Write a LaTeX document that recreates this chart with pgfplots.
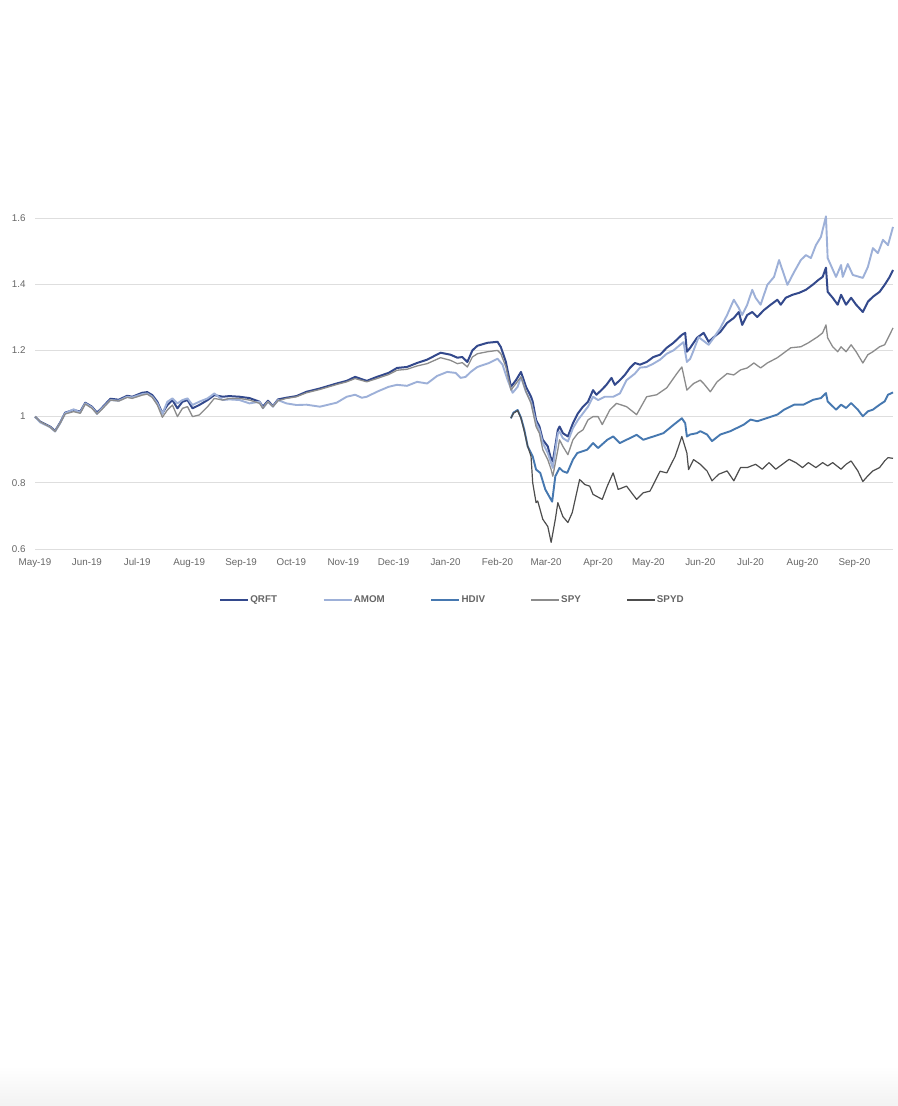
\documentclass[border=0pt]{standalone}
\usepackage{fontspec}
\setmainfont{Liberation Sans}
\usepackage{pgfplots}
\usepackage{pgfplotstable}
\pgfplotsset{compat=1.18}

\definecolor{qrft}{HTML}{33498C}
\definecolor{amom}{HTML}{9DB0D8}
\definecolor{hdiv}{HTML}{4678B0}
\definecolor{spy}{HTML}{8C8C8C}
\definecolor{spyd}{HTML}{4D4D4D}
\definecolor{tickc}{HTML}{666666}
\definecolor{gridc}{HTML}{DEDEDE}

% x = days since 1 May 2019, y = growth of 1
\pgfplotstableread{
d v
0 1.00
3 0.985
9 0.97
12 0.957
15 0.982
18 1.012
23 1.02
27 1.015
30 1.042
34 1.03
37 1.012
40 1.027
45 1.054
50 1.051
55 1.063
58 1.06
64 1.072
67 1.074
70 1.065
73 1.045
76 1.01
79 1.035
82 1.05
85 1.025
88 1.045
91 1.05
94 1.025
98 1.035
103 1.05
107 1.065
112 1.06
116 1.062
122 1.06
128 1.056
134 1.045
136 1.03
139 1.048
142 1.032
145 1.052
150 1.057
156 1.062
162 1.075
170 1.085
180 1.1
186 1.108
191 1.12
198 1.108
204 1.12
211 1.132
216 1.147
222 1.15
228 1.162
234 1.172
242 1.193
248 1.187
252 1.178
255 1.18
258 1.165
261 1.2
264 1.214
270 1.223
276 1.226
278 1.21
281 1.165
284 1.09
287 1.11
290 1.135
293 1.09
296 1.06
297 1.045
299 0.99
301 0.97
303 0.93
306 0.91
307.5 0.88
309 0.864
312 0.96
313 0.97
315 0.95
318 0.94
321 0.98
324 1.01
327 1.03
330 1.045
333 1.08
335 1.066
338 1.08
341 1.096
344 1.117
346 1.096
349 1.11
352 1.126
355 1.147
358 1.162
361 1.157
365 1.165
369 1.18
373 1.187
377 1.208
381 1.223
386 1.247
388 1.253
389 1.196
391 1.208
395 1.238
399 1.253
402 1.226
405 1.24
409 1.256
413 1.283
417 1.298
420 1.316
422 1.277
425 1.307
428 1.316
431 1.301
435 1.322
439 1.338
443 1.353
445 1.338
448 1.359
452 1.368
456 1.374
460 1.383
464 1.398
467.5 1.413
470 1.422
472 1.45
473 1.377
476 1.359
479 1.338
481 1.368
484 1.338
487 1.359
490 1.338
494 1.316
497 1.347
500 1.362
504 1.377
507 1.398
510 1.422
512 1.443
}\qrft

\pgfplotstableread{
d v
0 1.00
3 0.983
9 0.968
12 0.955
15 0.98
18 1.01
23 1.022
27 1.012
30 1.04
34 1.028
37 1.008
40 1.025
45 1.05
50 1.048
55 1.06
58 1.058
64 1.068
67 1.07
70 1.06
73 1.04
76 1.008
79 1.045
82 1.055
85 1.04
88 1.05
91 1.055
94 1.035
98 1.045
103 1.055
107 1.07
112 1.05
116 1.052
122 1.05
128 1.04
134 1.045
136 1.025
139 1.045
142 1.03
145 1.05
150 1.04
156 1.035
162 1.036
170 1.03
180 1.042
186 1.06
191 1.066
195 1.057
198 1.06
204 1.075
211 1.09
216 1.096
222 1.093
228 1.105
234 1.1
240 1.123
246 1.135
251 1.132
254 1.117
257 1.12
260 1.135
264 1.15
271 1.162
276 1.175
279 1.157
282 1.111
285 1.072
288 1.09
290 1.12
293 1.075
296 1.045
299 0.98
301 0.96
303 0.92
306 0.89
308 0.86
309 0.845
312 0.95
313 0.955
315 0.935
318 0.925
321 0.965
324 0.99
327 1.01
330 1.03
333 1.06
336 1.05
340 1.06
345 1.06
349 1.07
353 1.11
358 1.13
361 1.148
365 1.15
369 1.16
373 1.172
377 1.19
381 1.2
385 1.217
387 1.225
389 1.165
391 1.175
393 1.2
396 1.24
402 1.217
405 1.238
409 1.268
413 1.307
417 1.353
420 1.328
422 1.307
425 1.338
428 1.383
430 1.359
433 1.338
437 1.398
441 1.422
444 1.473
446 1.443
449 1.398
453 1.437
457 1.473
460 1.488
463 1.479
466 1.518
469 1.543
472 1.605
473 1.479
478 1.422
481 1.458
482 1.422
485 1.461
488 1.428
494 1.419
497 1.452
500 1.509
503 1.494
506 1.534
509 1.518
512 1.573
}\amom

\pgfplotstableread{
d v
284 0.995
285.5 1.012
288 1.02
290 0.997
292 0.96
294 0.91
297 0.88
299 0.84
301.5 0.83
304.5 0.78
308.6 0.743
310.5 0.82
313 0.845
315 0.835
317.6 0.83
321 0.87
323.6 0.89
329.5 0.9
333 0.92
336 0.905
341.5 0.93
345 0.94
349 0.92
353 0.93
359 0.945
363 0.93
369 0.94
375 0.95
381 0.975
386 0.995
388 0.98
389 0.94
391 0.946
395 0.95
397 0.956
401 0.946
404 0.926
409 0.946
415 0.956
419 0.966
423 0.976
427 0.991
431 0.986
437 0.996
443 1.006
447 1.021
453 1.036
458.5 1.036
464.5 1.051
469 1.056
472 1.071
473 1.046
478 1.021
481 1.036
484 1.026
487 1.041
491 1.021
494 1.001
497 1.016
500 1.021
504 1.036
507 1.046
509 1.066
512 1.073
}\hdiv

\pgfplotstableread{
d v
0 1.00
3 0.985
9 0.968
12 0.955
15 0.98
18 1.008
23 1.015
27 1.01
30 1.038
34 1.025
37 1.008
40 1.022
45 1.05
50 1.047
55 1.058
58 1.055
64 1.065
67 1.068
70 1.058
73 1.035
76 0.998
79 1.02
82 1.035
85 1.0
88 1.025
91 1.03
94 1.0
98 1.005
103 1.03
107 1.055
112 1.05
116 1.055
122 1.055
128 1.05
134 1.04
136 1.025
139 1.045
142 1.03
145 1.048
150 1.055
156 1.06
162 1.072
170 1.082
180 1.097
186 1.105
191 1.115
198 1.105
204 1.115
211 1.127
216 1.14
222 1.143
228 1.153
234 1.16
242 1.178
248 1.17
252 1.16
255 1.163
258 1.15
261 1.18
264 1.19
270 1.196
276 1.2
278 1.19
281 1.15
284 1.08
287 1.1
290 1.12
293 1.075
296 1.04
299 0.97
301 0.95
303 0.9
306 0.87
308 0.84
309 0.82
312 0.9
313 0.93
315 0.91
318 0.885
321 0.93
324 0.95
327 0.96
330 0.99
333 1.0
336 1.0
338.5 0.976
343 1.02
347 1.04
353 1.03
359 1.006
365 1.06
371 1.066
377 1.087
383 1.13
386 1.15
389 1.08
393 1.1
397 1.11
399 1.1
403 1.075
407 1.105
413 1.13
417 1.126
421 1.141
425 1.147
429 1.162
433 1.147
437 1.162
443 1.178
447 1.193
451 1.208
457 1.211
461.5 1.223
467 1.241
470 1.253
472 1.277
473 1.238
476 1.211
479 1.196
481 1.211
484 1.196
487 1.217
490 1.196
494 1.162
497 1.187
500 1.196
504 1.211
507 1.217
510 1.247
512 1.268
}\spy

\pgfplotstableread{
d v
284 0.995
285.5 1.01
288 1.018
290 0.995
292 0.955
294 0.91
296 0.88
297 0.8
299 0.74
300 0.745
303 0.69
306 0.668
308 0.62
310.5 0.69
312 0.74
315 0.698
318 0.68
320.6 0.71
325 0.81
328 0.795
331 0.79
333 0.765
338.5 0.75
341.5 0.79
345 0.83
348 0.78
353 0.79
359 0.75
363 0.77
367 0.775
373 0.835
377 0.83
382 0.88
386 0.94
389 0.89
390 0.84
393 0.87
397 0.856
401 0.836
404 0.806
408 0.826
413 0.836
417 0.806
421 0.846
425 0.846
430 0.856
434 0.841
438 0.861
442 0.841
446 0.856
450 0.871
454 0.861
458 0.846
461.5 0.861
466 0.846
470 0.861
473 0.851
476 0.861
481 0.841
484 0.856
487 0.866
491 0.836
494 0.804
497 0.821
500 0.836
504 0.846
507 0.866
509 0.876
512 0.874
}\spyd

\begin{document}
\begin{tikzpicture}
\path[fill=white] (0bp,0bp) rectangle (898bp,-1106bp);
\path[top color=white, bottom color=black!5] (0bp,-1066bp) rectangle (898bp,-1106bp);
\begin{axis}[
  at={(35bp,-549bp)}, anchor=south west,
  scale only axis, width=858bp, height=331bp,
  xmin=0, xmax=512, ymin=0.6, ymax=1.6,
  clip=false,
  axis line style={draw=none},
  major tick style={draw=none},
  ytick={0.6,0.8,1,1.2,1.4,1.6},
  ymajorgrids, grid style={gridc, line width=0.7bp},
  xtick={0,31,61,92,123,153,184,214,245,276,305,336,366,397,427,458,489},
  xticklabels={May-19,Jun-19,Jul-19,Aug-19,Sep-19,Oct-19,Nov-19,Dec-19,Jan-20,Feb-20,Mar-20,Apr-20,May-20,Jun-20,Jul-20,Aug-20,Sep-20},
  ticklabel style={font=\fontsize{9.8bp}{11bp}\selectfont, text=tickc},
  xticklabel style={yshift=-6bp},
  yticklabel style={xshift=-6bp},
  /pgf/number format/assume math mode=true,
  legend style={at={(0.486,-0.154)}, anchor=center, draw=none, fill=none,
    legend columns=5, font=\bfseries\fontsize{9.8bp}{11bp}\selectfont, text=tickc,
    nodes={inner sep=1.2bp},
    /tikz/every even column/.append style={column sep=44.5bp}},
  legend image code/.code={\draw[#1] (0bp,0bp) -- (28bp,0bp);},
]
\addplot[qrft, line width=2bp, line join=round] table[x=d, y=v] {\qrft};
\addlegendentry{QRFT}
\addplot[amom, line width=1.9bp, line join=round] table[x=d, y=v] {\amom};
\addlegendentry{AMOM}
\addplot[hdiv, line width=1.9bp, line join=round] table[x=d, y=v] {\hdiv};
\addlegendentry{HDIV}
\addplot[spy, line width=1.3bp, line join=round] table[x=d, y=v] {\spy};
\addlegendentry{SPY}
\addplot[spyd, line width=1.2bp, line join=round] table[x=d, y=v] {\spyd};
\addlegendentry{SPYD}
\end{axis}
\end{tikzpicture}
\end{document}
